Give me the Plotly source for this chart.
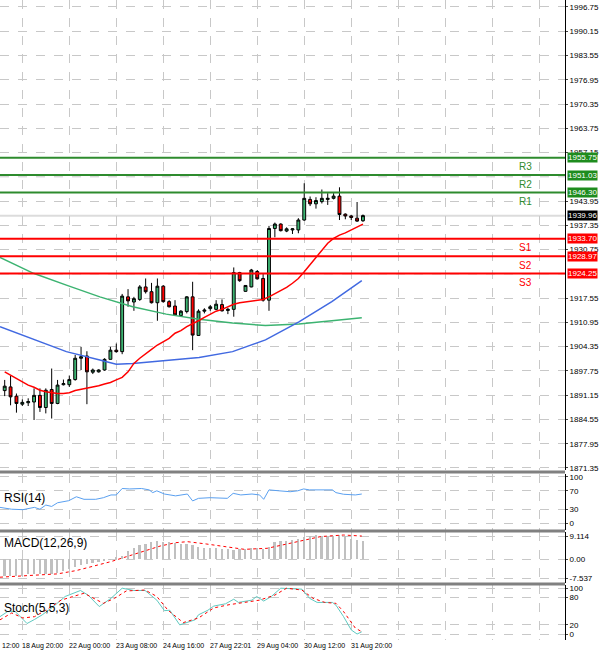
import plotly.graph_objects as go

# ---------------- data ----------------
opens = [1892.4,1893.4,1890.9,1888.7,1889.1,1889.3,1891.1,1887.8,1892.7,1888.9,1894.0,1894.0,1895.4,1901.2,1901.8,1897.4,1897.5,1898.0,1900.9,1903.4,
         1903.0,1917.9,1916.5,1917.2,1920.6,1919.3,1916.3,1920.8,1916.6,1915.4,1912.8,1913.9,1917.9,1907.4,1914.0,1914.7,1914.5,1915.8,1914.2,1914.5,
         1924.5,1919.4,1920.6,1924.8,1922.9,1917.0,1936.5,1937.7,1935.8,1936.1,1936.1,1938.8,1944.4,1943.2,1943.8,1944.4,1944.7,1945.3,1940.4,1939.9,
         1939.3,1938.6]
highs = [1895.3,1896.5,1891.6,1890.0,1890.3,1893.0,1893.0,1893.0,1898.4,1895.3,1895.4,1896.5,1902.1,1904.3,1903.1,1898.4,1898.2,1901.2,1904.3,1905.2,
         1918.7,1920.0,1917.9,1921.1,1922.9,1921.7,1922.9,1921.1,1917.0,1917.0,1914.3,1918.1,1922.0,1914.5,1914.8,1915.7,1917.0,1917.2,1914.9,1925.9,
         1924.7,1921.1,1925.5,1925.2,1924.1,1937.2,1938.1,1937.9,1936.8,1936.6,1939.3,1948.8,1945.2,1945.0,1947.1,1946.1,1946.1,1947.7,1940.6,1940.2,
         1943.7,1940.3]
lows = [1890.9,1888.4,1886.4,1888.2,1888.2,1884.4,1886.6,1886.2,1884.8,1888.7,1893.8,1893.4,1895.1,1898.0,1888.7,1896.9,1897.3,1897.8,1900.9,1902.7,
        1902.3,1915.2,1914.1,1916.8,1918.8,1916.1,1911.4,1916.3,1915.0,1912.9,1912.5,1913.4,1903.4,1907.3,1913.4,1914.1,1914.3,1913.9,1913.2,1912.5,
        1922.0,1919.3,1920.5,1922.6,1916.6,1914.1,1934.1,1935.7,1935.5,1935.0,1935.2,1938.6,1942.6,1941.9,1943.3,1942.9,1944.4,1938.8,1939.0,1938.8,
        1938.3,1938.3]
closes = [1893.6,1890.7,1888.9,1889.2,1889.4,1891.1,1887.8,1892.5,1888.9,1893.9,1894.3,1895.4,1901.2,1901.6,1897.5,1898.0,1898.0,1900.9,1903.4,1903.0,
          1918.1,1916.8,1917.4,1920.6,1919.3,1916.3,1920.8,1916.6,1915.2,1913.0,1914.0,1917.9,1907.5,1914.0,1914.3,1915.2,1915.9,1914.1,1914.5,1924.5,
          1922.3,1921.0,1925.2,1922.8,1917.0,1936.5,1937.7,1935.9,1936.4,1936.4,1938.8,1944.7,1943.2,1944.1,1944.7,1944.7,1945.3,1940.3,1939.9,1939.5,
          1938.5,1940.0]

ma_red = [1897.5,1896.6,1895.7,1894.8,1893.9,1893.3,1892.5,1892.1,1891.8,1891.6,1891.6,1891.8,1892.4,1892.7,1892.9,1893.3,1893.7,1894.2,1894.6,1895.3,
          1896.0,1897.5,1899.8,1901.2,1902.3,1903.6,1904.8,1905.7,1906.6,1908.0,1908.7,1909.8,1910.5,1911.4,1912.3,1913.2,1914.0,1914.5,1915.2,1915.9,
          1916.3,1916.5,1916.8,1917.0,1917.2,1917.9,1918.7,1919.6,1920.5,1921.6,1922.9,1924.7,1926.6,1928.6,1930.6,1932.5,1933.8,1934.7,1935.3,1936.1,
          1936.8,1937.7]
ma_x = [-0.8, 4.9, 10.5, 16.2, 19.0, 21.8, 27.5, 33.1, 38.8, 44.4, 50.1, 55.7, 60.8]
ma_blue = [1909.8,1906.3,1903.0,1900.7,1899.6,1899.8,1900.7,1901.4,1903.0,1906.2,1911.1,1916.6,1922.3]
ma_x_g = [-0.8, 4.9, 10.5, 16.2, 21.8, 27.5, 33.1, 38.8, 44.4, 50.1, 55.7, 60.8]
ma_green = [1928.6,1924.3,1921.1,1917.9,1915.2,1913.2,1911.8,1910.8,1910.1,1910.5,1911.4,1912.2]

levels = [1955.75, 1951.03, 1946.30, 1933.70, 1928.97, 1924.25]
level_names = ["R3", "R2", "R1", "S1", "S2", "S3"]
last_price = 1939.96

rsi_x = [-0.8,1.15,3.1,5.05,6.0,7.0,8.0,9.0,10.9,12.2,13.5,15.5,16.8,18.1,19.0,20.0,21.3,23.3,24.6,25.2,25.9,27.2,29.1,31.1,32.0,33.0,
         35.0,36.9,37.9,38.9,40.2,42.1,43.4,44.1,45.0,46.7,48.6,49.9,50.9,51.9,53.8,55.8,56.4,57.7,59.7,60.8]
rsi_v = [34,30,29,34,30,39,36,44,48.5,57,51.5,51.5,55,61,61,75,74,75,72,66,70,63,59,63,48,53.6,55,55,53.6,64.5,61,63,61,51.5,
         72,70,68,70,74,72,72,72,66,62.5,61,63]

macd_hist = [-6.5,-6.6,-6.6,-6.5,-5.9,-5.8,-5.7,-5.6,-5.6,-5.4,-4.5,-3.8,-3.0,-2.4,-2.0,-1.4,-1.0,-0.6,-0.2,0.8,
             1.2,3.2,4.6,5.6,6.1,6.8,7.0,6.9,6.6,6.4,6.1,5.8,5.5,4.8,4.5,4.4,4.3,4.2,4.0,3.8,
             4.2,4.0,4.5,4.4,4.2,5.0,6.7,7.2,7.3,7.4,7.9,8.8,9.3,9.4,9.2,9.0,9.3,9.5,9.1,8.0,7.5,7.3]
sig_x = [-0.8,3.1,9.0,12.2,14.8,18.1,20.7,23.3,26.5,29.1,31.1,34.3,38.2,40.8,44.7,47.3,51.3,53.8,57.7,60.8]
sig_v = [-7.0,-6.5,-5.7,-4.4,-2.9,-0.9,1.0,3.0,5.2,6.5,6.9,6.0,4.7,3.9,4.3,5.6,7.6,8.9,9.5,9.1]

st_x = [-0.8,0.5,1.8,3.8,5.1,6.4,8.3,10.3,12.9,14.2,16.1,18.1,20.0,22.0,23.9,25.9,27.2,28.1,29.8,31.1,32.4,33.0,34.6,35.6,37.6,
        39.0,39.8,42.1,42.9,44.1,45.4,47.0,49.3,50.6,51.9,53.2,55.8,56.4,57.7,59.0,60.0,60.8]
st_k = [38,49,49,23,32,42,60,82,95,85,60,78,100,95,95,74,51,52,20,25,31,42,52,61,66,76,69,74,82,72,82,100,98,98,78,69,69,63,38,9,0,5]
sd_x = [-0.8,1.2,3.1,5.1,7.0,9.6,13.5,16.8,18.7,20.7,23.9,25.9,27.8,30.4,33.0,35.6,38.2,40.8,43.4,46.0,48.0,50.6,52.5,54.5,56.4,57.7,59.7,60.8]
st_d = [31,46,35,38,52,74,89,67,78,94,96,82,52,25,35,57,64,69,74,85,100,96,78,69,67,49,13,5]

xtick_idx = [3, 11, 19, 27, 35, 43, 51, 59, 67, 75, 83, 91]
xtick_txt = ["18 Aug 20:00", "22 Aug 00:00", "23 Aug 08:00", "24 Aug 16:00", "27 Aug 22:01",
             "29 Aug 04:00", "30 Aug 12:00", "31 Aug 20:00"]

price_ticks = [1996.75,1990.15,1983.55,1976.95,1970.35,1963.75,1957.15,1943.95,1937.35,1930.75,
               1917.55,1910.95,1904.35,1897.75,1891.15,1884.55,1877.95,1871.35]
price_grid = [1950.55, 1924.15]

# ---------------- figure ----------------
idx = list(range(len(opens)))
FONT = "Liberation Sans"
H = 640.0
def py(px):
    return (H - px) / H

fig = go.Figure()
fig.add_trace(go.Candlestick(x=idx, open=opens, high=highs, low=lows, close=closes,
                             increasing=dict(fillcolor="#3cb371", line=dict(color="#000000", width=1)),
                             decreasing=dict(fillcolor="#ff0000", line=dict(color="#000000", width=1)),
                             whiskerwidth=0, xaxis="x", yaxis="y", showlegend=False))
fig.add_trace(go.Scatter(x=ma_x_g, y=ma_green, mode="lines", line=dict(color="#3cb371", width=1.5), xaxis="x", yaxis="y"))
fig.add_trace(go.Scatter(x=ma_x, y=ma_blue, mode="lines", line=dict(color="#4169e1", width=1.5), xaxis="x", yaxis="y"))
fig.add_trace(go.Scatter(x=idx, y=ma_red, mode="lines", line=dict(color="#ff0000", width=1.5), xaxis="x", yaxis="y"))

fig.add_trace(go.Scatter(x=rsi_x, y=rsi_v, mode="lines", line=dict(color="#5aa0f0", width=1), xaxis="x2", yaxis="y2"))
fig.add_trace(go.Bar(x=idx, y=macd_hist, marker=dict(color="#c0c0c0", line=dict(width=0)), width=0.3, xaxis="x3", yaxis="y3"))
fig.add_trace(go.Scatter(x=sig_x, y=sig_v, mode="lines", line=dict(color="#ff0000", width=1, dash="dot"), xaxis="x3", yaxis="y3"))
fig.add_trace(go.Scatter(x=st_x, y=st_k, mode="lines", line=dict(color="#5fc9c0", width=1), xaxis="x4", yaxis="y4"))
fig.add_trace(go.Scatter(x=sd_x, y=st_d, mode="lines", line=dict(color="#ff0000", width=1, dash="dot"), xaxis="x4", yaxis="y4"))

xr = [-0.8, 95.4]
xcommon = dict(range=xr, tickvals=xtick_idx, showticklabels=False, showgrid=True, gridcolor="#c8c8c8",
               griddash="dash", gridwidth=1, zeroline=False, rangeslider=dict(visible=False), fixedrange=True)
ycommon = dict(side="right", showgrid=True, gridcolor="#c8c8c8", griddash="dash", zeroline=False,
               tickfont=dict(family=FONT, size=8, color="#000"), ticks="outside", ticklen=2,
               showline=True, linecolor="#000", linewidth=1, fixedrange=True)

fig.update_layout(
    width=600, height=654, margin=dict(l=0, r=35, t=0, b=14),
    paper_bgcolor="white", plot_bgcolor="white", showlegend=False,
    font=dict(family=FONT),
    xaxis=dict(**xcommon, anchor="y"),
    xaxis2=dict(**xcommon, anchor="y2", matches="x"),
    xaxis3=dict(**xcommon, anchor="y3", matches="x"),
    xaxis4=dict(**xcommon, anchor="y4", matches="x"),
    yaxis=dict(**ycommon, domain=[py(470), 1], range=[1870.8, 1998.65], tickvals=price_ticks,
               ticktext=[f"{v:.2f}" for v in price_ticks]),
    yaxis2=dict(**ycommon, domain=[py(530), py(474)], range=[-15.2, 106.5], tickvals=[0, 30, 70, 100]),
    yaxis3=dict(**ycommon, domain=[py(583), py(532)], range=[-9.27, 10.68], tickvals=[-7.537, 0, 9.114],
                ticktext=["-7.537", "0.00", "9.114"]),
    yaxis4=dict(**ycommon, domain=[0, py(585)], range=[-13, 107], tickvals=[0, 20, 80, 100]),
    bargap=0,
)

shapes = []
for g in price_grid:
    shapes.append(dict(type="line", xref="paper", x0=0, x1=1, yref="y", y0=g, y1=g, layer="below",
                       line=dict(color="#c8c8c8", width=1, dash="dash")))
shapes.append(dict(type="line", xref="paper", x0=0, x1=1, yref="y", y0=last_price, y1=last_price,
                   layer="below", line=dict(color="#dcdcdc", width=2)))
for lv, nm in zip(levels, level_names):
    col = "#2e8b2e" if nm.startswith("R") else "#ff0000"
    shapes.append(dict(type="line", xref="paper", x0=0, x1=1, yref="y", y0=lv, y1=lv, line=dict(color=col, width=2)))
for yp in [472, 531, 584]:
    shapes.append(dict(type="line", xref="paper", x0=0, x1=1, yref="paper", y0=py(yp), y1=py(yp),
                       line=dict(color="#808080", width=3)))
fig.update_layout(shapes=shapes)

ann = []
for lv, nm in zip(levels, level_names):
    col = "#2e8b2e" if nm.startswith("R") else "#ff0000"
    box = "#1e8c1e" if nm.startswith("R") else "#ff0000"
    ann.append(dict(xref="paper", x=0.93, yref="y", y=lv, text=nm, showarrow=False, yshift=-9,
                    font=dict(family=FONT, size=10, color=col), xanchor="center"))
    ann.append(dict(xref="paper", x=1.003, yref="y", y=lv, text=f"{lv:.2f}", showarrow=False, xanchor="left",
                    bgcolor=box, font=dict(family=FONT, size=8, color="white"), borderpad=0))
ann.append(dict(xref="paper", x=1.003, yref="y", y=last_price, text=f"{last_price:.2f}", showarrow=False,
                xanchor="left", bgcolor="#000", font=dict(family=FONT, size=8, color="white"), borderpad=0))
for t, lab in [(py(498), "RSI(14)"), (py(543), "MACD(12,26,9)"), (py(608), "Stoch(5,5,3)")]:
    ann.append(dict(xref="paper", x=0.003, yref="paper", y=t, yanchor="middle", text=lab, showarrow=False,
                    xanchor="left", font=dict(family=FONT, size=12, color="#000")))
for i, lab in zip(xtick_idx, xtick_txt):
    ann.append(dict(xref="x4", x=i, yref="paper", y=0, yanchor="top", xanchor="left", text=lab, showarrow=False,
                    xshift=-2, font=dict(family=FONT, size=7, color="#000")))
ann.append(dict(xref="paper", x=0, yref="paper", y=0, yanchor="top", xanchor="left", text="12:00",
                showarrow=False, font=dict(family=FONT, size=7, color="#000")))
fig.update_layout(annotations=ann)

fig.write_html("out.html", config={"displayModeBar": False},
               post_script="document.body.style.margin='0';document.body.style.overflow='hidden';")
